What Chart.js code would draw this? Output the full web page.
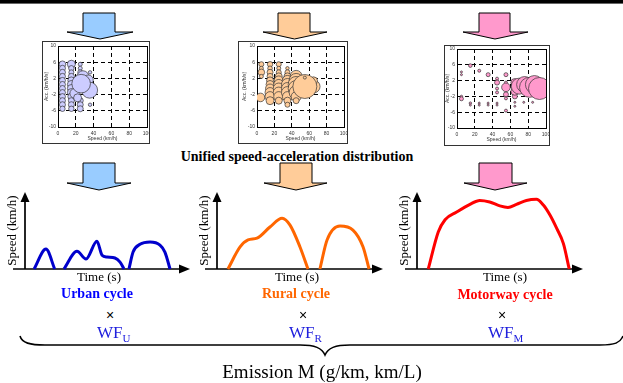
<!DOCTYPE html>
<html>
<head>
<meta charset="utf-8">
<script src="https://cdn.jsdelivr.net/npm/chart.js@4.4.1/dist/chart.umd.min.js"></script>
<style>
body { margin: 0; width: 623px; height: 383px; position: relative; overflow: hidden; background: #fff; font-family: "Liberation Serif", serif; }
#topbar { position: absolute; left: 0; top: 0; width: 623px; height: 3px; background: #000; border-bottom: 1px solid #666; }
.box { position: absolute; border: 1px solid #333; line-height: 0; }
.cyc { position: absolute; }
.txt { position: absolute; white-space: nowrap; text-align: center; }
svg { position: absolute; left: 0; top: 0; }
</style>
</head>
<body>
<div id="topbar"></div>
<svg width="623" height="383">
  <g stroke="#000" stroke-width="1">
    <polygon fill="#99ccff" points="83,13 115,13 115,32 133,32 100,39 67,32 83,32"/>
    <polygon fill="#ffcc99" points="278,13 310,13 310,32 327,32 294.5,39 263,32 278,32"/>
    <polygon fill="#ff99cc" points="479,13 510,13 510,32 528,32 495,39 463,32 479,32"/>
    <polygon fill="#99ccff" points="83,163 115,163 115,183 131,183 99,190 67,183 83,183"/>
    <polygon fill="#ffcc99" points="280,163 312,163 312,183 327,183 296,190 264,183 280,183"/>
    <polygon fill="#ff99cc" points="479,163 512,163 512,183 527,183 495,190 464,183 479,183"/>
  </g>
  <path d="M20,336 C22,343 30,345 45,345 L300,345 C315,345 322,348 325,355 C328,348 335,345 350,345 L600,345 C615,345 620,343 623,336" fill="none" stroke="#000" stroke-width="1.6"/>
</svg>

<div class="box" style="left:42px;top:41px"><canvas id="bu" width="106" height="101"></canvas></div>
<div class="box" style="left:238px;top:41px"><canvas id="br" width="108" height="101"></canvas></div>
<div class="box" style="left:444px;top:45px"><canvas id="bm" width="104" height="99"></canvas></div>

<canvas class="cyc" id="cu" width="200" height="90" style="left:0;top:185px"></canvas>
<canvas class="cyc" id="cr" width="200" height="90" style="left:195px;top:185px"></canvas>
<canvas class="cyc" id="cm" width="228" height="90" style="left:395px;top:185px"></canvas>

<div class="txt" style="left:147px;top:148px;width:300px;font-weight:bold;font-size:14px;line-height:18px">Unified speed-acceleration distribution</div>

<div class="txt" style="left:49px;top:269px;width:100px;font-size:13px;line-height:16px">Time (s)</div>
<div class="txt" style="left:247px;top:269px;width:100px;font-size:13px;line-height:16px">Time (s)</div>
<div class="txt" style="left:455px;top:269px;width:100px;font-size:13px;line-height:16px">Time (s)</div>

<div class="txt" style="left:37px;top:285px;width:120px;font-weight:bold;font-size:14px;line-height:17px;color:#0000ff">Urban cycle</div>
<div class="txt" style="left:236px;top:285px;width:120px;font-weight:bold;font-size:14px;line-height:17px;color:#ff6600">Rural cycle</div>
<div class="txt" style="left:445px;top:286px;width:120px;font-weight:bold;font-size:14px;line-height:17px;color:#ff0000">Motorway cycle</div>

<div class="txt" style="left:95px;top:306px;width:30px;font-family:'Liberation Sans',sans-serif;font-size:14px;line-height:18px">×</div>
<div class="txt" style="left:288px;top:306px;width:30px;font-family:'Liberation Sans',sans-serif;font-size:14px;line-height:18px">×</div>
<div class="txt" style="left:487px;top:306px;width:30px;font-family:'Liberation Sans',sans-serif;font-size:14px;line-height:18px">×</div>

<div class="txt" style="left:97px;top:323px;font-size:17px;line-height:20px;color:#2020dd;text-align:left">WF<sub style="font-size:11px">U</sub></div>
<div class="txt" style="left:289px;top:323px;font-size:17px;line-height:20px;color:#2020dd;text-align:left">WF<sub style="font-size:11px">R</sub></div>
<div class="txt" style="left:488px;top:323px;font-size:17px;line-height:20px;color:#2020dd;text-align:left">WF<sub style="font-size:11px">M</sub></div>

<div class="txt" style="left:172px;top:361px;width:300px;font-size:19px;line-height:22px">Emission M (g/km, km/L)</div>

<script>
// speed-acceleration bubbles (speed km/h, acc km/h/s, bubble radius px)
const urbanSpeed = [5, 5, 5, 5, 5, 5, 5, 5, 5, 5, 5, 5, 15, 15, 15, 15, 15, 15, 15, 15, 15, 15, 15, 15, 25, 25, 25, 25, 25, 25, 36, 36, 28, 34, 19, 22, 35.5, 26]
const urbanAcc = [5.5, 4.5, 3.5, 2.5, 1.5, 0.5, -0.5, -1.5, -2.5, -3.5, -4.5, -5.5, 5.5, 4.5, 3.5, 2.5, 1.5, 0.5, -0.5, -1.5, -2.5, -3.5, -4.5, -5.5, 5.5, 4.5, 3.5, -3.5, -4.5, -5.5, 3.5, -4.5, 2.4, 1.6, -1.7, -2.8, -0.9, 0.7]
const urbanSize = [3.3, 3, 3, 3, 3, 3, 3, 3, 3, 3, 3, 2.7, 4, 2.7, 2.5, 3, 3.5, 4, 4, 4, 3.5, 3, 3, 2.7, 2, 2, 2.5, 3, 3, 3, 1.7, 1.7, 6, 5, 5, 4, 8, 9.3]

const ruralSpeed = [5, 5, 5, 5, 4, 15, 15, 15, 15, 15, 15, 15, 15, 15, 15, 25, 25, 25, 25, 25, 25, 25, 25, 25, 25, 35, 35, 35, 35, 35, 35, 35, 35, 35, 35, 45, 45, 45, 45, 45, 45, 45, 65, 65, 55, 55]
const ruralAcc = [5.5, 4.5, 3.5, 2.5, -2.7, 5.5, 4.5, 3.5, 2.5, 1.5, 0.5, -0.5, -1.5, -2.5, -3.5, 5.5, 4.5, 3.5, 2.5, 1.5, 0.5, -0.5, -1.5, -2.5, -3.5, 4.5, 3.5, 2.5, 1.5, 0.5, -0.5, -1.5, -2.5, -3.5, -4.5, 2.5, 1.5, 0.5, -0.5, -1.5, -2.5, -3.5, 0, 1.4, 0, 2.2]
const ruralSize = [2.5, 2, 3.3, 2, 4.3, 2.7, 2.3, 3, 3, 3.5, 4, 4.5, 5, 5, 4, 2.5, 2, 2.5, 3.5, 4.5, 5, 5.5, 5.5, 5, 3.5, 1.7, 2.5, 3.5, 5, 6, 6, 6, 5, 3.5, 2.5, 6, 7, 8, 8, 7, 5, 3, 6.5, 4, 12, 1.5]

const motorSpeed = [5, 5, 5, 5, 15, 15, 15, 25, 25, 25, 35, 35, 35, 45, 45, 45, 45, 45, 45, 55, 55, 55, 55, 55, 65, 65, 65, 75, 85, 55, 65, 65, 70, 76, 81.5, 87, 92.7]
const motorAcc = [4.2, 3.5, -2, -2.6, 5.8, -3.7, -4.2, 4.5, -3.7, -4.2, 3.5, -3.7, -4.2, 2.5, 1.5, 0, -1, -3.7, -4.2, 3.5, 1.5, -1.5, -2.5, -5.6, -2, -3.5, -4.5, -3.5, -3.5, 0.3, -0.7, 1.5, 0.6, 1, 0.3, 1, 0]
const motorSize = [1, 1, 1.2, 2, 1.8, 1.2, 1, 1.5, 1, 1, 2, 1, 1, 1.5, 2.5, 1.5, 1.5, 1, 1, 2, 1.5, 2.5, 1.5, 1.5, 2.5, 1, 1, 1, 1, 4.3, 4, 4, 8, 8, 10, 9, 11]

const speedTicks = [0, 20, 40, 60, 80, 100]
const accTicks = [-10, -8, -6, -4, -2, 0, 2, 4, 6, 8, 10]

// schematic driving cycles (time %, speed %), null splits a cycle into trips
const urbanTime = [5.5, 12.7, 18, 18, 23.6, 31.5, 37, 43.6, 46.7, 49.7, 54.5, 57.6, 60, 60, 63, 65.5, 69.7, 75.8, 81.8, 84.8, 87.9]
const urbanVal = [0, 26, 0, null, 0, 23, 13, 36, 18, 15.6, 14.3, 9, 0, null, 0, 22, 32, 35, 31, 22, 0]

const ruralTime = [6.6, 13.9, 18.7, 24.1, 31.9, 39.2, 44, 50, 54.8, 54.8, 62, 66.3, 74.1, 81.9, 88, 91.6]
const ruralVal = [0, 28.6, 37.7, 40, 54.5, 66, 57, 28.6, 0, null, 0, 37.7, 55.8, 50.6, 28.6, 0]

const motorTime = [6.8, 12.8, 16.9, 23.9, 31.9, 37.8, 43.8, 49.9, 54.8, 59.9, 65.9, 71.9, 76.1, 80.1, 84.1, 88.2, 91.7]
const motorVal = [0, 48, 64, 74, 84, 89, 87, 82, 80, 84, 89, 90.5, 83, 70, 53, 33, 0]

const edgeValues = [-10, 0, 10, 100]
const gridDash = c => (c.type === 'tick' && !edgeValues.includes(c.tick.value)) ? [4, 3] : []

function bubbleChart(id, xs, ys, rs, fill, pad, yWidth) {
    let pts = xs.map((x, i) => ({ x: x, y: ys[i], r: rs[i] }))
    return new Chart(document.getElementById(id), {
        type: 'bubble',
        data: { datasets: [{ data: pts, backgroundColor: fill, borderColor: '#333', borderWidth: 0.7 }] },
        options: {
            responsive: false,
            animation: false,
            layout: { padding: pad, autoPadding: false },
            plugins: { legend: { display: false }, tooltip: { enabled: false } },
            scales: {
                x: {
                    type: 'linear', min: 0, max: 100,
                    afterBuildTicks: s => { s.ticks = speedTicks.map(v => ({ value: v })) },
                    ticks: { font: { family: 'Liberation Sans', size: 5 }, color: '#333', padding: 4, maxRotation: 0 },
                    grid: { color: '#000', lineWidth: 1, drawTicks: false },
                    border: { color: '#000', width: 1, dash: gridDash },
                    title: { display: true, text: 'Speed (km/h)', font: { family: 'Liberation Sans', size: 5 }, color: '#333', padding: 0 },
                    afterFit: s => { s.height = 15; s.paddingLeft = 0; s.paddingRight = 0 }
                },
                y: {
                    type: 'linear', min: -10, max: 10,
                    afterBuildTicks: s => { s.ticks = accTicks.map(v => ({ value: v })) },
                    ticks: { font: { family: 'Liberation Sans', size: 5 }, color: '#333', padding: 2 },
                    grid: { color: '#000', lineWidth: 1, drawTicks: false },
                    border: { color: '#000', width: 1, dash: gridDash },
                    title: { display: true, text: 'Acc. (km/h/s)', font: { family: 'Liberation Sans', size: 5 }, color: '#333', padding: 0 },
                    afterFit: s => { s.width = yWidth; s.paddingTop = 0; s.paddingBottom = 0 }
                }
            }
        }
    })
}

bubbleChart('bu', urbanSpeed, urbanAcc, urbanSize, '#ccccff', { left: 1, right: 2, top: 4, bottom: 1 }, 14)
bubbleChart('br', ruralSpeed, ruralAcc, ruralSize, '#ffcc99', { left: 3, right: 3, top: 4, bottom: 1 }, 15)
bubbleChart('bm', motorSpeed, motorAcc, motorSize, '#ff99cc', { left: 0, right: 3, top: 3, bottom: 2 }, 12)

// axes with arrow heads for the cycle sketches
const axisArrows = {
    id: 'axisArrows',
    beforeDatasetsDraw(chart) {
        const { ctx, chartArea: a } = chart
        ctx.save()
        ctx.strokeStyle = '#000'
        ctx.fillStyle = '#000'
        ctx.lineWidth = 1.7
        ctx.beginPath()
        ctx.moveTo(a.left, a.bottom)
        ctx.lineTo(a.left, a.top + 8)
        ctx.moveTo(a.left - 12, a.bottom)
        ctx.lineTo(a.right - 8, a.bottom)
        ctx.stroke()
        ctx.beginPath()
        ctx.moveTo(a.left, a.top)
        ctx.lineTo(a.left - 4.5, a.top + 10)
        ctx.lineTo(a.left + 4.5, a.top + 10)
        ctx.closePath()
        ctx.fill()
        ctx.beginPath()
        ctx.moveTo(a.right, a.bottom)
        ctx.lineTo(a.right - 11, a.bottom - 4.5)
        ctx.lineTo(a.right - 11, a.bottom + 4.5)
        ctx.closePath()
        ctx.fill()
        ctx.restore()
    }
}

function cycleChart(id, time, val, color, padLeft, padRight) {
    let pts = time.map((t, i) => ({ x: t, y: val[i] }))
    return new Chart(document.getElementById(id), {
        type: 'line',
        data: { datasets: [{ data: pts, borderColor: color, borderWidth: 3, pointRadius: 0, cubicInterpolationMode: 'monotone', spanGaps: false, clip: false, fill: false }] },
        options: {
            responsive: false,
            animation: false,
            layout: { padding: { left: padLeft, right: padRight, top: 7, bottom: 6 }, autoPadding: false },
            plugins: { legend: { display: false }, tooltip: { enabled: false } },
            scales: {
                x: { type: 'linear', min: 0, max: 100, display: false },
                y: {
                    type: 'linear', min: 0, max: 100,
                    ticks: { display: false },
                    grid: { display: false },
                    border: { display: false },
                    title: { display: true, text: 'Speed (km/h)', font: { family: 'Liberation Serif', size: 13 }, color: '#000', padding: 0 },
                    afterFit: s => { s.width = 20 }
                }
            }
        },
        plugins: [axisArrows]
    })
}

cycleChart('cu', urbanTime, urbanVal, '#0000cc', 5, 10)
cycleChart('cr', ruralTime, ruralVal, '#ff6600', 2, 12)
cycleChart('cm', motorTime, motorVal, '#ff0000', 2, 40)
</script>
</body>
</html>
